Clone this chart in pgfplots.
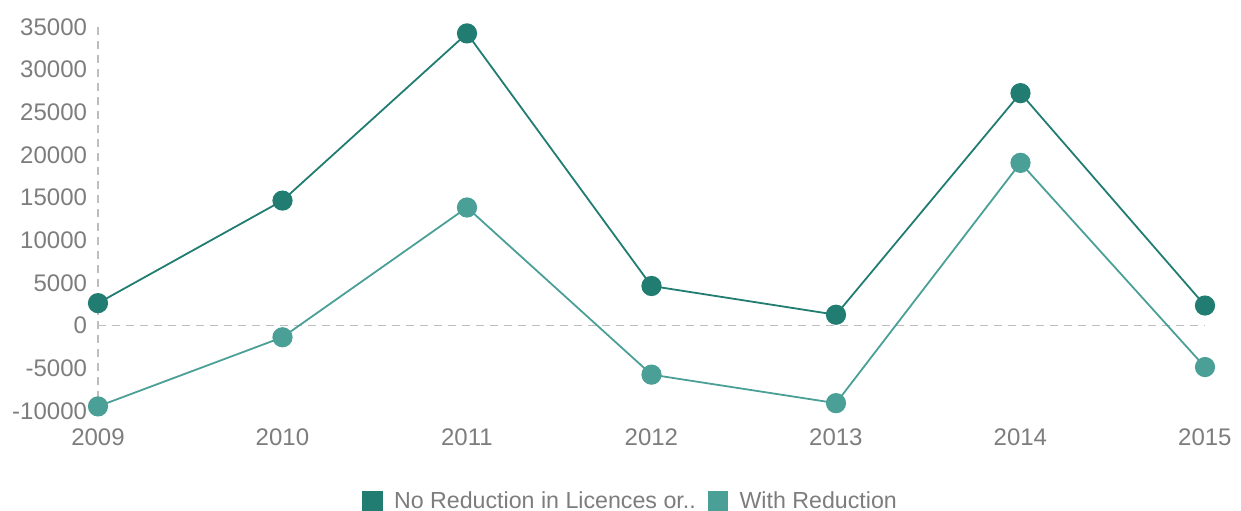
\documentclass[border=0pt]{standalone}
\usepackage{fontspec}
\setmainfont{Liberation Sans}
\usepackage{pgfplots}
\pgfplotsset{compat=1.18}
\definecolor{darkteal}{RGB}{33,125,113}
\definecolor{lightteal}{RGB}{74,160,150}
\definecolor{labgray}{RGB}{125,125,125}
\definecolor{dashgray}{RGB}{190,190,190}
\begin{document}
\begin{tikzpicture}
\useasboundingbox (0,0) rectangle (620.5bp,255.5bp);
\begin{axis}[
  at={(49bp,50bp)}, anchor=south west,
  scale only axis, width=553.5bp, height=192bp,
  xmin=2009, xmax=2015, ymin=-10000, ymax=35000,
  xtick={2009,...,2015}, ytick={-10000,-5000,...,35000},
  axis line style={draw=none},
  major tick length=0pt,
  clip=false,
  /pgf/number format/assume math mode=true,
  x tick label style={/pgf/number format/1000 sep={}, font=\fontsize{12bp}{14bp}\selectfont, text=labgray, yshift=-5.5bp},
  y tick label style={/pgf/number format/1000 sep={}, font=\fontsize{12bp}{14bp}\selectfont, text=labgray, xshift=-2bp},
  scaled y ticks=false,
  legend columns=2,
  legend style={at={(0.482,-0.235)}, anchor=center, draw=none, font=\fontsize{11.6bp}{13bp}\selectfont, text=labgray,
    /tikz/every even column/.append style={column sep=4bp}},
  legend image code/.code={\fill[#1] (0bp,-4.7bp) rectangle (9.4bp,4.7bp); \path (13bp,0bp);},
]
\draw[dashgray, line width=0.6bp, dash pattern=on 4bp off 3bp] (axis cs:2009,35000) -- (axis cs:2009,-10000);
\draw[dashgray, line width=0.6bp, dash pattern=on 4bp off 3bp] (axis cs:2009,0) -- (axis cs:2015,0);
\addplot[darkteal, line width=0.9bp, mark=*, mark size=4.6bp, mark options={solid, fill=darkteal, draw=darkteal}]
  coordinates {(2009,2640) (2010,14660) (2011,34250) (2012,4650) (2013,1280) (2014,27250) (2015,2360)};
\addlegendentry{No Reduction in Licences or..}
\addplot[lightteal, line width=0.9bp, mark=*, mark size=4.6bp, mark options={solid, fill=lightteal, draw=lightteal}]
  coordinates {(2009,-9460) (2010,-1360) (2011,13850) (2012,-5740) (2013,-9080) (2014,19080) (2015,-4850)};
\addlegendentry{With Reduction}
\end{axis}
\end{tikzpicture}
\end{document}
